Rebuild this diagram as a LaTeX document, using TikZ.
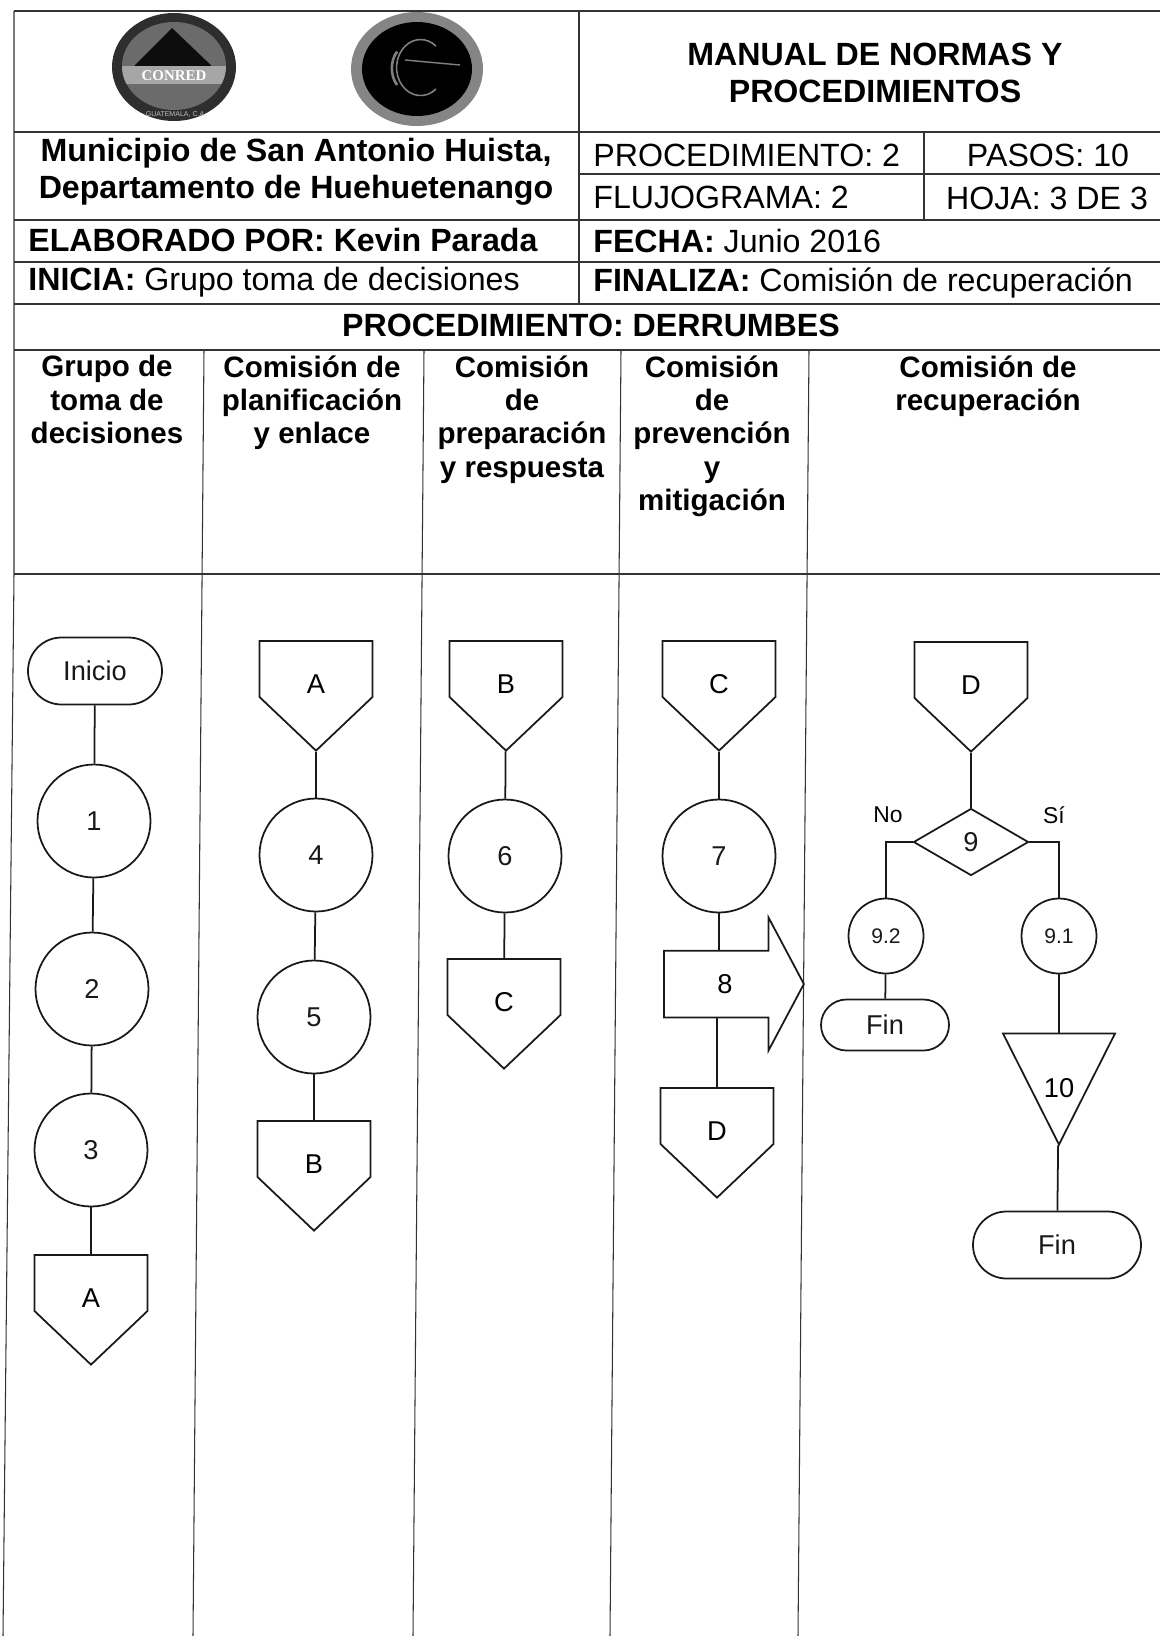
\documentclass[tikz,border=0pt]{standalone}
\usepackage{fontspec}
\setmainfont{Liberation Sans}
\newfontfamily\logofont{Liberation Serif}
\usetikzlibrary{shapes.geometric,shapes.misc,shapes.symbols,shapes.arrows}
\tikzset{
	table line/.style={line width=0.6pt, black!80},
	shape line/.style={line width=1pt, black!90},
	head/.style={font=\fontsize{18.3}{21}\selectfont\bfseries, align=center, inner sep=0},
	cell/.style={font=\fontsize{18.3}{21}\selectfont, anchor=west, inner sep=0},
	colhead/.style={font=\fontsize{16.8}{19}\selectfont\bfseries, align=center, anchor=north, inner sep=0},
	plain/.style={font=\fontsize{15.5}{18}\selectfont, inner sep=0},
	circ/.style={circle, draw, shape line, minimum size=113*0.02cm, inner sep=0, font=\fontsize{15.5}{18}\selectfont},
	smallcirc/.style={circle, draw, shape line, minimum size=75*0.02cm, inner sep=0, font=\fontsize{12}{14}\selectfont},
	term/.style={rounded rectangle, draw, shape line, inner sep=0, font=\fontsize{15.5}{18}\selectfont},
	offpage/.style={signal, draw, shape line, signal to=south, signal from=nowhere, signal pointer angle=93,
		minimum width=113*0.02cm, minimum height=56*0.02cm, inner sep=0, font=\fontsize{15.5}{18}\selectfont,
		label={[plain, yshift=-0.3cm]center:#1}},
}
\begin{document}
\begin{tikzpicture}[x=0.02cm, y=-0.02cm]
	\useasboundingbox (0,0) rectangle (1160,1636);

	% table
	\draw[table line] (14,11)--(1160,11);
	\draw[table line] (14,132)--(1160,132);
	\draw[table line] (579,174)--(1160,174);
	\draw[table line] (14,220)--(1160,220);
	\draw[table line] (14,262)--(1160,262);
	\draw[table line] (14,304)--(1160,304);
	\draw[table line] (14,350)--(1160,350);
	\draw[table line] (14,574)--(1160,574);
	\draw[table line] (14,11)--(14,574)--(3,1636);
	\draw[table line] (579,11)--(579,304);
	\draw[table line] (924,132)--(924,220);
	\draw[table line] (204,350)--(193,1636);
	\draw[table line] (424,350)--(413,1636);
	\draw[table line] (621,350)--(610,1636);
	\draw[table line] (809,350)--(798,1636);

	% logos
	\fill[black!82] (174,67) ellipse (62 and 54);
	\begin{scope}
		\clip (174,66) ellipse (52 and 44);
		\fill[black!58] (110,20) rectangle (240,115);
		\fill[black!95] (172,28)--(218,72)--(128,72)--cycle;
		\fill[black!35] (120,66) rectangle (230,84);
	\end{scope}
	\node (conred) [font=\logofont\bfseries\fontsize{8.5}{10}\selectfont, text=white, inner sep=0] at (174,76) {CONRED};
	\node (guate) [font=\fontsize{4}{5}\selectfont, text=black!25, inner sep=0] at (176,114) {GUATEMALA, C.A.};
	\fill[black!48] (417,69) ellipse (66 and 57);
	\fill[black] (417,69) ellipse (55 and 47);
	\draw[black!50, line width=0.9pt] (436,89) arc[start angle=50, end angle=310, x radius=24, y radius=28];
	\draw[black!50, line width=1.5pt] (397,85) arc[start angle=140, end angle=220, x radius=22, y radius=26];
	\draw[black!50, line width=0.8pt] (405,60)--(460,65);

	% title block
	\node (manual) [head] at (875,73) {MANUAL DE NORMAS Y\\PROCEDIMIENTOS};
	\node (muni) [head] at (296,172) {Municipio de San Antonio Huista,\\Departamento de Huehuetenango};
	\node (proced) [cell] at (593,155) {PROCEDIMIENTO: 2};
	\node (pasos) [plain, font=\fontsize{18.3}{21}\selectfont] at (1048,155) {PASOS: 10};
	\node (fluj) [cell] at (593,197) {FLUJOGRAMA: 2};
	\node (hoja) [plain, font=\fontsize{18.3}{21}\selectfont] at (1047,198) {HOJA: 3 DE 3};
	\node (elab) [cell] at (28,240) {\bfseries ELABORADO POR: Kevin Parada};
	\node (fecha) [cell] at (593,241) {\textbf{FECHA:} Junio 2016};
	\node (inicia) [cell] at (28,282) {\textbf{INICIA:} Grupo toma de decisiones};
	\node (finaliza) [cell] at (593,283) {\textbf{FINALIZA:} Comisión de recuperación};
	\node (titulo) [head] at (591,325) {PROCEDIMIENTO: DERRUMBES};

	% column heads
	\node (grupo) [colhead] at (107,355) {Grupo de\\toma de\\decisiones};
	\node (planif) [colhead] at (312,355) {Comisión de\\planificación\\y enlace};
	\node (prepar) [colhead] at (522,355) {Comisión\\de\\preparación\\y respuesta};
	\node (prevenc) [colhead] at (712,355) {Comisión\\de\\prevención\\y\\mitigación};
	\node (recup) [colhead] at (988,355) {Comisión de\\recuperación};

	% column 1
	\node (inicio) [term, minimum width=134*0.02cm, minimum height=67*0.02cm] at (95,671) {Inicio};
	\node (c1) [circ] at (94,821) {1};
	\node (c2) [circ] at (92,989) {2};
	\node (c3) [circ] at (91,1150) {3};
	\node (a1) [offpage=A] at (91,1283) {};
	\draw[shape line] (inicio)--(c1);
	\draw[shape line] (c1)--(c2);
	\draw[shape line] (c2)--(c3);
	\draw[shape line] (c3)--(a1);

	% column 2
	\node (a2) [offpage=A] at (316,669) {};
	\node (c4) [circ] at (316,855) {4};
	\node (c5) [circ] at (314,1017) {5};
	\node (b1) [offpage=B] at (314,1149) {};
	\draw[shape line] (a2)--(c4);
	\draw[shape line] (c4)--(c5);
	\draw[shape line] (c5)--(b1);

	% column 3
	\node (b2) [offpage=B] at (506,669) {};
	\node (c6) [circ] at (505,856) {6};
	\node (c1off) [offpage=C] at (504,987) {};
	\draw[shape line] (b2)--(c6);
	\draw[shape line] (c6)--(c1off);

	% column 4
	\node (c2off) [offpage=C] at (719,669) {};
	\node (c7) [circ] at (719,856) {7};
	\node (c8) [single arrow, draw, shape line, inner xsep=0, inner ysep=32.5*0.02cm, minimum width=131*0.02cm,
		minimum height=140*0.02cm, single arrow head extend=33*0.02cm, single arrow tip angle=124,
		label={[plain]center:8}] at (725,984) {};
	\node (d1) [offpage=D] at (717,1116) {};
	\draw[shape line] (c2off)--(c7);
	\draw[shape line] (c7)--(c7 |- c8.north);
	\draw[shape line] (d1 |- c8.south)--(d1);

	% column 5
	\node (d2) [offpage=D] at (971,670) {};
	\node (c9) [diamond, draw, shape line, inner sep=0, minimum width=115*0.02cm, minimum height=67*0.02cm,
		font=\fontsize{15.5}{18}\selectfont] at (971,842) {9};
	\node (c92) [smallcirc] at (886,936) {9.2};
	\node (c91) [smallcirc] at (1059,936) {9.1};
	\node (fin1) [term, minimum width=128*0.02cm, minimum height=51*0.02cm] at (885,1025) {Fin};
	\node (c10) [isosceles triangle, draw, shape line, shape border rotate=-90, isosceles triangle apex angle=54,
		isosceles triangle stretches, inner sep=0, minimum width=112*0.02cm, minimum height=111*0.02cm] at (1059,1068) {};
	\node (t10) [plain] at (1059,1088) {10};
	\node (fin2) [term, minimum width=168*0.02cm, minimum height=67*0.02cm] at (1057,1245) {Fin};
	\node (no) [font=\fontsize{13}{15}\selectfont, inner sep=0] at (888,815) {No};
	\node (si) [font=\fontsize{13}{15}\selectfont, inner sep=0] at (1054,815) {Sí};
	\draw[shape line] (d2)--(c9);
	\draw[shape line] (c9.west) -| (c92);
	\draw[shape line] (c9.east) -| (c91);
	\draw[shape line] (c92)--(fin1);
	\draw[shape line] (c91)--(c10);
	\draw[shape line] (c10)--(fin2);
\end{tikzpicture}
\end{document}
